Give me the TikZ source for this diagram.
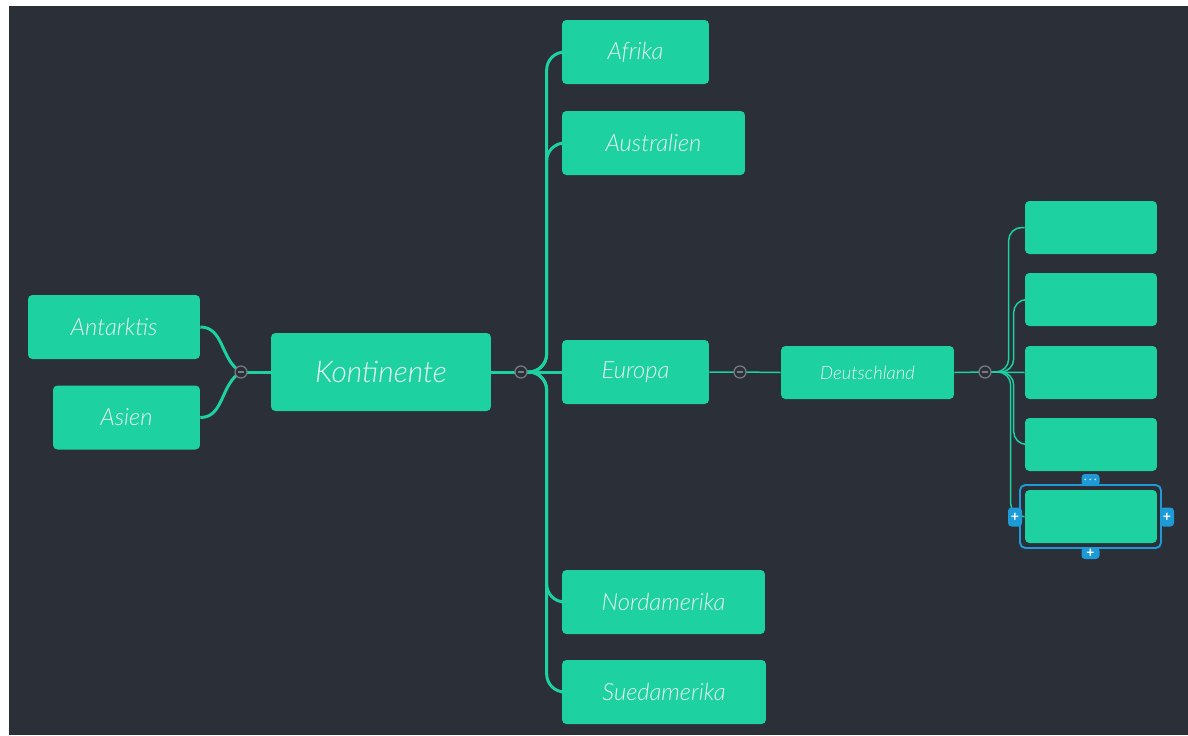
\documentclass[tikz,border=0pt]{standalone}
\usepackage{fontspec}
\newfontfamily\handfont{Lato}[UprightFont=* Light, ItalicFont=* Light Italic, BoldFont=* Bold]
\usetikzlibrary{positioning}
\definecolor{mmbg}{RGB}{43,47,56}
\definecolor{mmgreen}{RGB}{29,209,161}
\definecolor{mmtext}{RGB}{236,244,240}
\definecolor{mmgrey}{RGB}{120,124,132}
\definecolor{mmblue}{RGB}{30,155,215}
\tikzset{
  topic/.style={fill=mmgreen, rounded corners=2.5pt, text=mmtext, inner sep=0pt,
    minimum height=1.28cm, font=\handfont\itshape\fontsize{13.5}{15}\selectfont},
  leaf/.style={topic, minimum width=2.64cm, minimum height=1.06cm},
  thickline/.style={mmgreen, line width=1.7pt, rounded corners=0.36cm},
  thinline/.style={mmgreen, line width=0.85pt, rounded corners=0.26cm},
  collapse/.style={circle, draw=mmgrey, fill=mmbg, line width=0.7pt, minimum size=0.24cm, inner sep=0pt,
    path picture={\draw[mmgrey, line width=0.8pt]
      ([xshift=-1.8pt]path picture bounding box.center) -- ([xshift=1.8pt]path picture bounding box.center);}},
  handle/.style={fill=mmblue, rounded corners=2pt, inner sep=0pt, text=white,
    font=\handfont\bfseries\fontsize{8}{8}\selectfont}
}
\begin{document}
\begin{tikzpicture}[x=0.02cm, y=-0.02cm]
  \useasboundingbox (0,0) rectangle (1188,735);
  \fill[mmbg] (9,6) rectangle (1188,735);

  % topics
  \node[topic, minimum width=4.4cm, minimum height=1.56cm, font=\handfont\itshape\fontsize{17}{19}\selectfont]
    (kontinente) at (381,372) {Kontinente};
  \node[topic, minimum width=3.44cm] (antarktis) at (114,327) {Antarktis};
  \node[topic, minimum width=2.94cm] (asien) at (126.5,417.5) {Asien};
  \node[topic, minimum width=2.94cm] (afrika) at (635.5,52) {Afrika};
  \node[topic, minimum width=3.66cm] (australien) at (653.5,143) {Australien};
  \node[topic, minimum width=2.94cm] (europa) at (635.5,372) {Europa};
  \node[topic, minimum width=4.06cm] (nordamerika) at (663.5,602) {Nordamerika};
  \node[topic, minimum width=4.08cm] (suedamerika) at (664,692) {Suedamerika};
  \node[topic, minimum width=3.46cm, minimum height=1.06cm, font=\handfont\itshape\fontsize{10.5}{12}\selectfont]
    (deutschland) at (867.5,372.5) {Deutschland};

  % empty subtopics of Deutschland
  \foreach \idx/\ypos in {1/227.5, 2/299.5, 3/372.5, 4/444.5, 5/516.5}
    \node[leaf] (sub-\idx) at (1091,\ypos) {};

  % collapse points
  \coordinate (lc) at (241,372);
  \coordinate (kc) at (521,372);
  \coordinate (ec) at (740,372);
  \coordinate (dc) at (985,372);

  % connectors
  \draw[thickline] (antarktis.east) to[out=0, in=150] (lc);
  \draw[thickline] (asien.east) to[out=0, in=-150] (lc);
  \draw[thickline] (lc) -- (kontinente.west);
  \draw[thickline] (kontinente.east) -- (kc) -- (europa.west);
  \foreach \child in {afrika, australien, nordamerika, suedamerika}
    \draw[thickline] (kc) -| ([xshift=-0.3cm]\child.west) -- (\child.west);
  \draw[thinline] (europa.east) -- (ec) -- (deutschland.west);
  \draw[thinline] (deutschland.east) -- (dc) -- (sub-3.west);
  \foreach \idx/\off in {1/0.32, 2/0.22, 4/0.22, 5/0.28}
    \draw[thinline] (dc) -| ([xshift=-\off cm]sub-\idx.west) -- (sub-\idx.west);

  \foreach \pt in {lc, kc, ec, dc}
    \node[collapse] at (\pt) {};

  % selection frame with handles
  \draw[mmblue, line width=1.1pt, rounded corners=3pt] (1020,485) rectangle (1161,548);
  \node[handle, minimum width=0.28cm, minimum height=0.38cm] (h-left) at (1015,517) {+};
  \node[handle, minimum width=0.28cm, minimum height=0.38cm] (h-right) at (1167,517) {+};
  \node[handle, minimum width=0.36cm, minimum height=0.24cm] (h-bottom) at (1090.5,553) {+};
  \node[handle, minimum width=0.36cm, minimum height=0.24cm] (h-top) at (1090.5,480) {$\cdot\!\cdot\!\cdot$};
\end{tikzpicture}
\end{document}
